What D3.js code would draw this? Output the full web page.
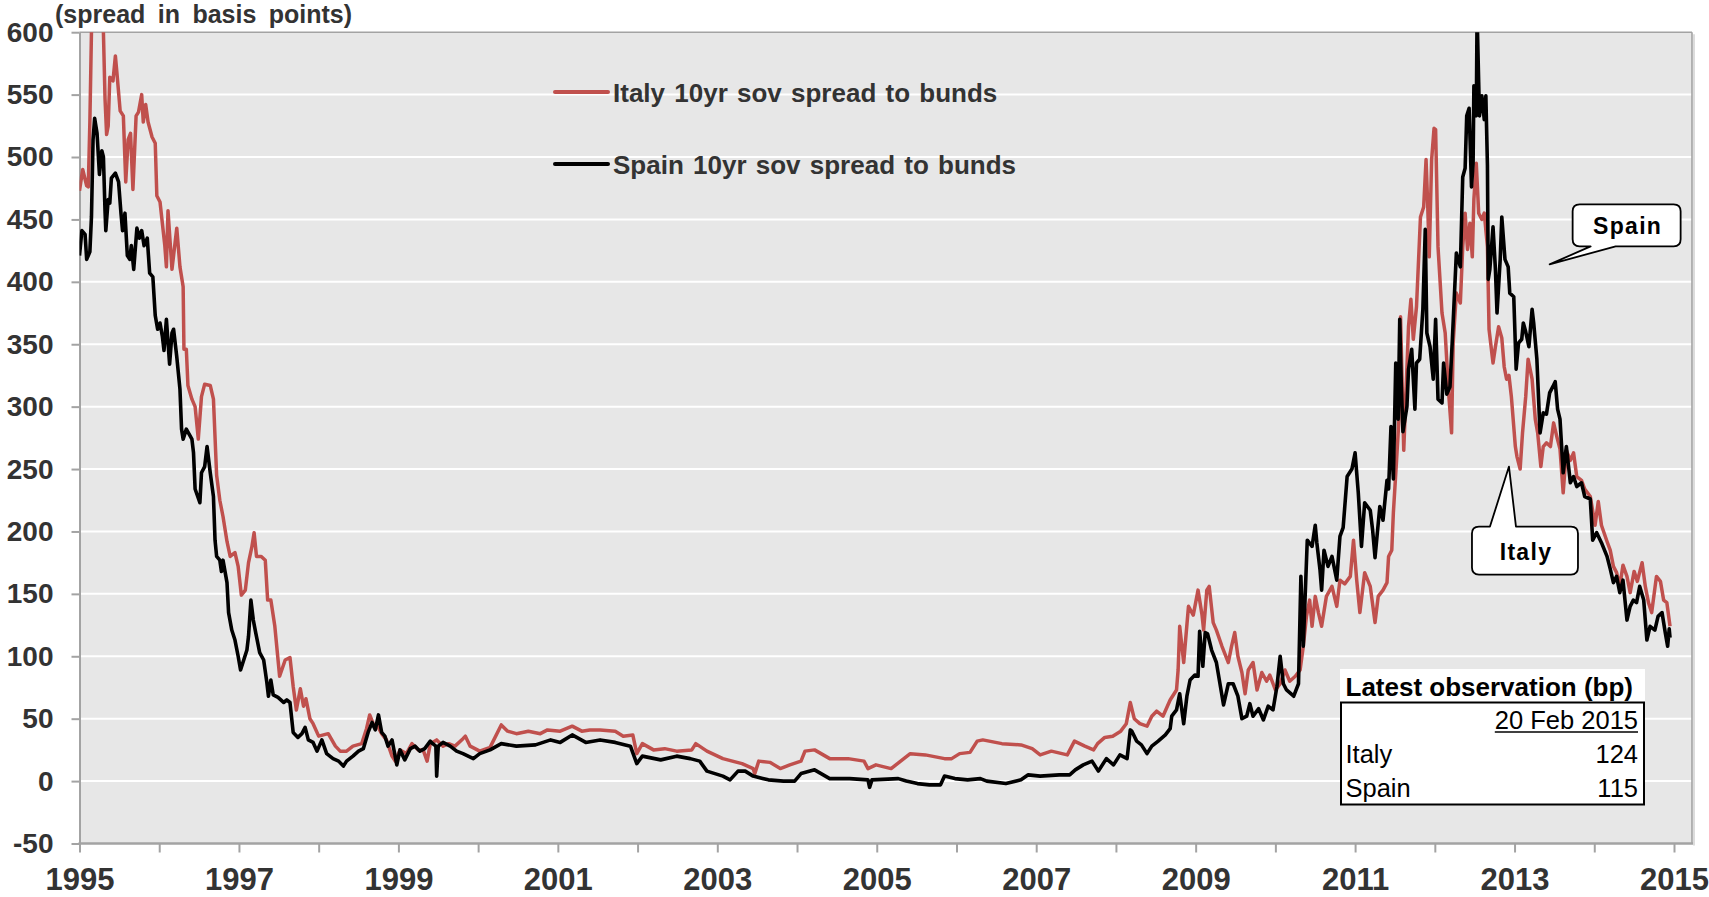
<!DOCTYPE html>
<html>
<head>
<meta charset="utf-8">
<script src="https://cdn.jsdelivr.net/npm/d3@7"></script>
<style>
  html, body { margin: 0; padding: 0; background: #ffffff; }
  svg { display: block; font-family: "Liberation Sans", Arial, Helvetica, sans-serif; }
</style>
</head>
<body>
<svg id="chart" width="1709" height="897"></svg>
<script>
// ---- Italy 10yr sovereign spread to Bunds (bp), decimal year / value ----
const italyYears = [
  1995.00,1995.04,1995.09,1995.11,1995.13,1995.15,1995.18,1995.23,1995.27,1995.30,
  1995.32,1995.34,1995.36,1995.38,1995.42,1995.45,1995.47,1995.51,1995.55,1995.58,
  1995.61,1995.64,1995.67,1995.71,1995.74,1995.78,1995.80,1995.83,1995.86,1995.91,
  1995.95,1995.97,1996.01,1996.07,1996.09,1996.11,1996.16,1996.22,1996.26,1996.30,
  1996.31,1996.34,1996.36,1996.41,1996.45,1996.49,1996.53,1996.57,1996.64,1996.68,
  1996.72,1996.76,1996.80,1996.85,1996.89,1996.95,1996.99,1997.03,1997.08,1997.12,
  1997.16,1997.19,1997.22,1997.28,1997.33,1997.36,1997.40,1997.45,1997.51,1997.58,
  1997.64,1997.68,1997.72,1997.77,1997.81,1997.84,1997.89,1997.93,1998.00,1998.06,
  1998.12,1998.21,1998.27,1998.35,1998.43,1998.54,1998.60,1998.64,1998.69,1998.73,
  1998.79,1998.85,1998.92,1998.96,1999.02,1999.10,1999.17,1999.25,1999.31,1999.36,
  1999.40,1999.48,1999.56,1999.63,1999.71,1999.81,1999.84,1999.90,2000.02,2000.15,
  2000.29,2000.37,2000.48,2000.63,2000.78,2000.87,2001.03,2001.18,2001.30,2001.40,
  2001.53,2001.72,2001.82,2001.94,2001.99,2002.06,2002.20,2002.34,2002.49,2002.68,
  2002.73,2002.87,2003.07,2003.31,2003.45,2003.47,2003.52,2003.66,2003.79,2003.91,
  2004.05,2004.10,2004.22,2004.41,2004.64,2004.84,2004.89,2004.99,2005.18,2005.30,
  2005.42,2005.61,2005.85,2005.94,2006.04,2006.17,2006.26,2006.33,2006.57,2006.81,
  2006.95,2007.05,2007.19,2007.39,2007.48,2007.61,2007.72,2007.77,2007.86,2007.96,
  2008.06,2008.13,2008.18,2008.23,2008.30,2008.39,2008.45,2008.51,2008.59,2008.68,
  2008.76,2008.78,2008.80,2008.85,2008.91,2008.97,2009.03,2009.08,2009.10,2009.14,
  2009.17,2009.22,2009.26,2009.33,2009.41,2009.45,2009.49,2009.53,2009.58,2009.62,
  2009.66,2009.72,2009.77,2009.83,2009.89,2009.93,2010.00,2010.06,2010.12,2010.18,
  2010.25,2010.31,2010.35,2010.39,2010.43,2010.46,2010.50,2010.54,2010.58,2010.64,
  2010.71,2010.77,2010.81,2010.87,2010.94,2010.98,2011.02,2011.06,2011.12,2011.19,
  2011.25,2011.29,2011.35,2011.40,2011.42,2011.46,2011.48,2011.52,2011.55,2011.57,
  2011.61,2011.67,2011.70,2011.73,2011.77,2011.82,2011.86,2011.89,2011.91,2011.93,
  2011.96,2011.99,2012.01,2012.04,2012.09,2012.13,2012.17,2012.21,2012.23,2012.27,
  2012.32,2012.35,2012.38,2012.41,2012.44,2012.47,2012.49,2012.52,2012.55,2012.59,
  2012.62,2012.66,2012.68,2012.73,2012.76,2012.80,2012.84,2012.87,2012.90,2012.93,
  2012.96,2013.01,2013.03,2013.07,2013.10,2013.14,2013.17,2013.22,2013.26,2013.29,
  2013.33,2013.36,2013.40,2013.45,2013.49,2013.53,2013.57,2013.61,2013.65,2013.70,
  2013.74,2013.78,2013.84,2013.88,2013.95,2014.01,2014.05,2014.09,2014.16,2014.20,
  2014.24,2014.28,2014.32,2014.36,2014.41,2014.45,2014.50,2014.54,2014.60,2014.64,
  2014.68,2014.72,2014.78,2014.83,2014.87,2014.91,2014.95
];
const italyValues = [
  473,490,477,476,528,600,640,655,630,600,
  547,518,525,564,561,581,567,537,533,480,
  514,519,474,533,536,550,528,542,528,516,
  511,469,464,429,412,457,410,443,412,396,
  346,346,317,306,300,274,308,318,317,306,
  245,225,212,192,180,183,172,149,153,175,
  187,199,180,180,177,145,145,124,84,97,
  99,76,57,74,60,66,50,46,36,37,
  38,28,24,24,28,30,42,53,45,45,
  38,33,20,16,25,22,30,25,25,16,
  30,33,28,30,28,34,36,28,24,27,
  45,40,38,40,38,41,40,44,40,41,
  41,40,36,37,22,30,25,26,24,25,
  30,24,18,14,10,6,16,15,10,13,
  16,24,25,18,18,16,10,13,10,16,
  22,21,18,18,22,23,32,33,30,29,
  26,21,24,21,32,28,25,30,35,36,
  40,46,63,50,46,44,52,56,52,65,
  73,89,124,95,140,133,153,133,121,153,
  156,127,121,108,95,108,119,100,87,70,
  89,95,73,87,80,85,73,78,89,80,
  84,89,108,132,145,124,148,135,124,148,
  156,140,161,158,164,193,161,135,167,156,
  127,148,153,159,180,185,215,257,290,372,
  265,364,386,354,380,452,460,498,463,420,
  498,523,522,428,375,359,314,279,351,391,
  383,428,455,426,447,420,466,495,455,450,
  455,428,362,335,348,364,355,332,322,325,
  308,268,260,250,279,308,338,322,290,279,
  252,268,271,268,287,276,266,231,265,257,
  263,244,241,234,228,205,224,205,192,185,
  172,167,156,173,164,151,168,160,175,156,
  143,135,164,160,145,143,124
];

// ---- Spain 10yr sovereign spread to Bunds (bp), decimal year / value ----
const spainYears = [
  1995.00,1995.03,1995.07,1995.09,1995.13,1995.15,1995.17,1995.19,1995.22,1995.25,
  1995.28,1995.30,1995.32,1995.33,1995.36,1995.38,1995.40,1995.45,1995.49,1995.52,
  1995.54,1995.57,1995.60,1995.63,1995.65,1995.68,1995.72,1995.75,1995.78,1995.81,
  1995.85,1995.88,1995.92,1995.95,1995.98,1996.01,1996.04,1996.06,1996.09,1996.13,
  1996.16,1996.18,1996.22,1996.26,1996.28,1996.30,1996.34,1996.41,1996.43,1996.45,
  1996.51,1996.53,1996.57,1996.60,1996.64,1996.68,1996.70,1996.72,1996.76,1996.78,
  1996.80,1996.85,1996.87,1996.91,1996.95,1996.99,1997.02,1997.05,1997.10,1997.12,
  1997.15,1997.18,1997.21,1997.26,1997.31,1997.35,1997.37,1997.40,1997.43,1997.49,
  1997.56,1997.60,1997.64,1997.68,1997.74,1997.79,1997.83,1997.87,1997.93,1997.98,
  1998.04,1998.10,1998.18,1998.25,1998.31,1998.35,1998.43,1998.50,1998.56,1998.62,
  1998.67,1998.71,1998.75,1998.79,1998.83,1998.87,1998.92,1998.98,1999.02,1999.08,
  1999.15,1999.21,1999.27,1999.33,1999.40,1999.43,1999.47,1999.48,1999.50,1999.56,
  1999.65,1999.73,1999.81,1999.94,2000.02,2000.15,2000.29,2000.48,2000.72,2000.91,
  2001.03,2001.18,2001.35,2001.53,2001.72,2001.91,2001.99,2002.06,2002.29,2002.49,
  2002.66,2002.78,2002.87,2003.07,2003.16,2003.26,2003.35,2003.45,2003.64,2003.83,
  2003.97,2004.05,2004.22,2004.41,2004.66,2004.89,2004.91,2004.94,2005.27,2005.37,
  2005.51,2005.66,2005.80,2005.85,2005.98,2006.14,2006.30,2006.38,2006.62,2006.81,
  2006.90,2007.05,2007.29,2007.42,2007.49,2007.59,2007.70,2007.78,2007.88,2007.97,
  2008.05,2008.14,2008.18,2008.20,2008.26,2008.32,2008.39,2008.45,2008.53,2008.62,
  2008.68,2008.70,2008.76,2008.80,2008.85,2008.89,2008.93,2008.99,2009.03,2009.05,
  2009.09,2009.12,2009.15,2009.20,2009.26,2009.35,2009.41,2009.47,2009.53,2009.58,
  2009.64,2009.68,2009.72,2009.79,2009.85,2009.91,2009.97,2010.02,2010.06,2010.10,
  2010.14,2010.23,2010.29,2010.32,2010.35,2010.40,2010.46,2010.50,2010.52,2010.56,
  2010.58,2010.61,2010.66,2010.71,2010.77,2010.81,2010.85,2010.90,2010.96,2011.00,
  2011.04,2011.08,2011.12,2011.19,2011.22,2011.25,2011.31,2011.35,2011.40,2011.42,
  2011.45,2011.48,2011.51,2011.54,2011.56,2011.58,2011.60,2011.65,2011.67,2011.71,
  2011.75,2011.77,2011.81,2011.85,2011.88,2011.90,2011.94,2011.98,2012.01,2012.04,
  2012.09,2012.11,2012.15,2012.19,2012.22,2012.27,2012.32,2012.35,2012.38,2012.40,
  2012.43,2012.46,2012.48,2012.49,2012.52,2012.53,2012.55,2012.56,2012.59,2012.62,
  2012.64,2012.66,2012.67,2012.69,2012.73,2012.76,2012.78,2012.82,2012.84,2012.88,
  2012.92,2012.94,2012.99,2013.02,2013.05,2013.09,2013.11,2013.14,2013.18,2013.22,
  2013.24,2013.28,2013.32,2013.36,2013.40,2013.44,2013.48,2013.51,2013.54,2013.57,
  2013.61,2013.65,2013.70,2013.74,2013.78,2013.84,2013.88,2013.95,2013.98,2014.03,
  2014.09,2014.16,2014.20,2014.24,2014.28,2014.32,2014.36,2014.41,2014.45,2014.49,
  2014.53,2014.57,2014.62,2014.66,2014.70,2014.76,2014.80,2014.85,2014.89,2014.92,
  2014.94,2014.95
];
const spainValues = [
  421,441,438,418,424,452,514,531,519,486,
  505,500,457,441,466,463,483,487,480,455,
  441,455,421,418,429,410,443,435,441,429,
  435,407,404,373,362,367,356,345,370,334,
  359,362,340,314,282,274,282,274,263,234,
  223,247,252,268,247,228,193,180,177,168,
  177,159,135,121,113,100,89,95,105,116,
  145,129,119,103,97,79,68,81,69,67,
  63,65,63,39,35,38,43,33,31,24,
  33,22,18,16,12,16,20,24,26,39,
  47,41,53,39,36,28,33,13,25,17,
  26,28,24,26,32,30,28,4,28,31,
  28,24,22,18,22,25,30,28,29,33,
  31,37,31,33,31,28,14,20,17,20,
  18,16,8,4,1,8,8,4,1,0,
  0,6,9,2,2,1,-5,1,2,0,
  -2,-3,-3,4,2,1,2,0,-2,1,
  5,4,5,5,9,13,16,8,18,13,
  21,18,41,40,32,29,22,28,32,37,
  42,52,57,70,46,68,81,85,84,120,
  92,119,118,105,95,61,78,78,68,50,
  52,62,52,58,49,60,57,76,100,78,
  73,68,78,164,108,193,188,205,191,169,
  153,185,172,180,161,196,203,244,250,263,
  231,188,223,217,201,179,220,209,241,234,
  284,242,335,290,370,316,280,300,330,346,
  298,335,338,378,442,359,348,322,370,306,
  303,335,310,316,354,423,412,484,491,533,
  539,476,495,557,533,615,560,533,549,530,
  549,493,402,410,444,410,375,418,452,418,
  412,391,388,330,351,354,367,360,348,378,
  367,338,279,295,294,311,316,320,298,290,
  247,268,239,244,236,239,228,226,193,199,
  191,180,170,159,164,151,161,129,140,145,
  143,156,145,113,124,121,132,135,119,108,
  122,115
];

// ---- axes, labels and annotation content ----
const yTickValues = [-50, 0, 50, 100, 150, 200, 250, 300, 350, 400, 450, 500, 550, 600];
const xTickYears = [1995, 1996, 1997, 1998, 1999, 2000, 2001, 2002, 2003, 2004,
                    2005, 2006, 2007, 2008, 2009, 2010, 2011, 2012, 2013, 2014, 2015];
const xLabelYears = [1995, 1997, 1999, 2001, 2003, 2005, 2007, 2009, 2011, 2013, 2015];
const seriesNames = ["Italy 10yr sov spread to bunds", "Spain 10yr sov spread to bunds"];
const countryNames = ["Italy", "Spain"];
const latestDate = "20 Feb 2015";
// callout anchors, in data coordinates [year, bp]
const spainCalloutAnchor = [2013.44, 414];
const italyCalloutAnchor = [2012.93, 252];

const ITALY_RED = "#c0504d";
const SPAIN_BLACK = "#000000";
const AXIS_GREY = "#a3a3a3";
const TEXT_DARK = "#333333";

const plot = { left: 79.5, right: 1692, top: 32.2, bottom: 843.5 };

const x = d3.scaleLinear().domain([1995, 2015]).range([79.5, 1674]);
const y = d3.scaleLinear().domain([-50, 600]).range([plot.bottom, plot.top]);

const svg = d3.select("#chart");

// plot background
svg.append("rect")
  .attr("x", plot.left).attr("y", plot.top)
  .attr("width", plot.right - plot.left).attr("height", plot.bottom - plot.top)
  .attr("fill", "#e7e7e7");

// horizontal gridlines
svg.append("g")
  .selectAll("line")
  .data(yTickValues.filter(v => v > -50 && v < 600))
  .join("line")
  .attr("x1", plot.left).attr("x2", plot.right)
  .attr("y1", d => y(d)).attr("y2", d => y(d))
  .attr("stroke", "#ffffff").attr("stroke-width", 2);

// top and right frame
svg.append("line")
  .attr("x1", plot.left).attr("x2", plot.right)
  .attr("y1", plot.top).attr("y2", plot.top)
  .attr("stroke", AXIS_GREY).attr("stroke-width", 1.6);
svg.append("line")
  .attr("x1", plot.right).attr("x2", plot.right)
  .attr("y1", plot.top).attr("y2", plot.bottom)
  .attr("stroke", AXIS_GREY).attr("stroke-width", 1.6);
svg.append("line")
  .attr("x1", plot.right + 2).attr("x2", plot.right + 2)
  .attr("y1", plot.top + 2).attr("y2", plot.bottom + 2)
  .attr("stroke", "#dcdcdc").attr("stroke-width", 2);

// y axis
const yAxis = d3.axisLeft(y)
  .tickValues(yTickValues)
  .tickFormat(d => String(d))
  .tickSize(8).tickSizeOuter(0).tickPadding(18);
const gy = svg.append("g")
  .attr("transform", `translate(${plot.left},0)`)
  .call(yAxis);
gy.select(".domain").attr("stroke", AXIS_GREY).attr("stroke-width", 2);
gy.selectAll(".tick line").attr("stroke", AXIS_GREY).attr("stroke-width", 2);
gy.selectAll(".tick text")
  .attr("fill", TEXT_DARK)
  .style("font-size", "28px").style("font-weight", "bold")
  .style("font-family", '"Liberation Sans", Arial, sans-serif');

// x axis
const xAxis = d3.axisBottom(x)
  .tickValues(xTickYears)
  .tickFormat(d => xLabelYears.includes(d) ? String(d) : "")
  .tickSize(9).tickSizeOuter(0).tickPadding(15);
const gx = svg.append("g")
  .attr("transform", `translate(0,${plot.bottom})`)
  .call(xAxis);
gx.select(".domain").remove();
gx.selectAll(".tick line").attr("stroke", AXIS_GREY).attr("stroke-width", 2);
gx.selectAll(".tick text")
  .attr("fill", TEXT_DARK)
  .style("font-size", "31px").style("font-weight", "bold")
  .style("font-family", '"Liberation Sans", Arial, sans-serif');
svg.append("line")
  .attr("x1", plot.left - 1).attr("x2", plot.right + 1)
  .attr("y1", plot.bottom).attr("y2", plot.bottom)
  .attr("stroke", AXIS_GREY).attr("stroke-width", 2.5);

// axis caption
svg.append("text")
  .attr("x", 55).attr("y", 22.5)
  .attr("fill", TEXT_DARK)
  .style("font-size", "25px").style("font-weight", "bold")
  .style("word-spacing", "5.5px")
  .text("(spread in basis points)");

// series lines, clipped to the plot area
svg.append("defs").append("clipPath").attr("id", "plot-clip")
  .append("rect")
  .attr("x", plot.left).attr("y", plot.top)
  .attr("width", plot.right - plot.left).attr("height", plot.bottom - plot.top);

const italyData = italyYears.map((t, i) => [t, italyValues[i]]);
const spainData = spainYears.map((t, i) => [t, spainValues[i]]);

const line = d3.line().x(d => x(d[0])).y(d => y(d[1]));
const series = svg.append("g").attr("clip-path", "url(#plot-clip)");
series.append("path")
  .datum(italyData)
  .attr("d", line)
  .attr("fill", "none").attr("stroke", ITALY_RED)
  .attr("stroke-width", 3.5).attr("stroke-linejoin", "round");
series.append("path")
  .datum(spainData)
  .attr("d", line)
  .attr("fill", "none").attr("stroke", SPAIN_BLACK)
  .attr("stroke-width", 3.6).attr("stroke-linejoin", "round");

// legend
const legend = svg.append("g");
[[ITALY_RED, 92, 101.5], [SPAIN_BLACK, 164, 174]].forEach((s, i) => {
  legend.append("line")
    .attr("x1", 555).attr("x2", 608).attr("y1", s[1]).attr("y2", s[1])
    .attr("stroke", s[0]).attr("stroke-width", 4).attr("stroke-linecap", "round");
  legend.append("text")
    .attr("x", 613).attr("y", s[2])
    .attr("fill", TEXT_DARK)
    .style("font-size", "26px").style("font-weight", "bold")
    .style("word-spacing", "2px")
    .text(seriesNames[i]);
});

// callout boxes
function calloutPath(x0, y0, x1, y1, r, side, b0, b1, tx, ty) {
  const p = d3.path();
  p.moveTo(x0 + r, y0);
  if (side === "top") { p.lineTo(b0, y0); p.lineTo(tx, ty); p.lineTo(b1, y0); }
  p.lineTo(x1 - r, y0);
  p.quadraticCurveTo(x1, y0, x1, y0 + r);
  p.lineTo(x1, y1 - r);
  p.quadraticCurveTo(x1, y1, x1 - r, y1);
  if (side === "bottom") { p.lineTo(b1, y1); p.lineTo(tx, ty); p.lineTo(b0, y1); }
  p.lineTo(x0 + r, y1);
  p.quadraticCurveTo(x0, y1, x0, y1 - r);
  p.lineTo(x0, y0 + r);
  p.quadraticCurveTo(x0, y0, x0 + r, y0);
  p.closePath();
  return p.toString();
}

const callouts = svg.append("g");
{
  const tx = x(spainCalloutAnchor[0]), ty = y(spainCalloutAnchor[1]);
  const x0 = tx + 23, y0 = ty - 60, x1 = x0 + 108, y1 = y0 + 42;
  callouts.append("path")
    .attr("d", calloutPath(x0, y0, x1, y1, 7, "bottom", tx + 41, tx + 66, tx, ty))
    .attr("fill", "#ffffff").attr("stroke", "#000").attr("stroke-width", 1.8)
    .attr("stroke-linejoin", "round");
  callouts.append("text")
    .attr("x", (x0 + x1) / 2 + 1).attr("y", y0 + 29.5)
    .attr("text-anchor", "middle").attr("fill", "#000")
    .style("font-size", "23px").style("font-weight", "bold")
    .style("letter-spacing", "1.3px")
    .text(countryNames[1]);
}
{
  const tx = x(italyCalloutAnchor[0]), ty = y(italyCalloutAnchor[1]);
  const x0 = tx - 37, y0 = ty + 60, x1 = x0 + 106, y1 = y0 + 48;
  callouts.append("path")
    .attr("d", calloutPath(x0, y0, x1, y1, 7, "top", tx - 19, tx + 7, tx, ty))
    .attr("fill", "#ffffff").attr("stroke", "#000").attr("stroke-width", 1.8)
    .attr("stroke-linejoin", "round");
  callouts.append("text")
    .attr("x", (x0 + x1) / 2 + 1).attr("y", y0 + 33)
    .attr("text-anchor", "middle").attr("fill", "#000")
    .style("font-size", "23px").style("font-weight", "bold")
    .style("letter-spacing", "1.3px")
    .text(countryNames[0]);
}

// latest-observation table
const table = svg.append("g");
table.append("rect")
  .attr("x", 1340).attr("y", 669).attr("width", 305).attr("height", 34)
  .attr("fill", "#ffffff");
table.append("text")
  .attr("x", 1345.5).attr("y", 695.5).attr("fill", "#000")
  .style("font-size", "26px").style("font-weight", "bold")
  .text("Latest observation (bp)");
table.append("rect")
  .attr("x", 1341).attr("y", 702.5).attr("width", 303).attr("height", 102)
  .attr("fill", "#ffffff").attr("stroke", "#000").attr("stroke-width", 2);
const dateText = table.append("text")
  .attr("x", 1638).attr("y", 729).attr("text-anchor", "end").attr("fill", "#000")
  .style("font-size", "25.5px")
  .text(latestDate);
const dateBox = dateText.node().getBBox();
table.append("line")
  .attr("x1", dateBox.x).attr("x2", dateBox.x + dateBox.width)
  .attr("y1", 732).attr("y2", 732)
  .attr("stroke", "#000").attr("stroke-width", 1.6);
const latestRows = [
  [countryNames[0], italyValues[italyValues.length - 1], 763],
  [countryNames[1], spainValues[spainValues.length - 1], 797]
];
latestRows.forEach(r => {
  table.append("text")
    .attr("x", 1345.5).attr("y", r[2]).attr("fill", "#000")
    .style("font-size", "25.5px").text(r[0]);
  table.append("text")
    .attr("x", 1638).attr("y", r[2]).attr("text-anchor", "end").attr("fill", "#000")
    .style("font-size", "25.5px").text(String(r[1]));
});
</script>
</body>
</html>
